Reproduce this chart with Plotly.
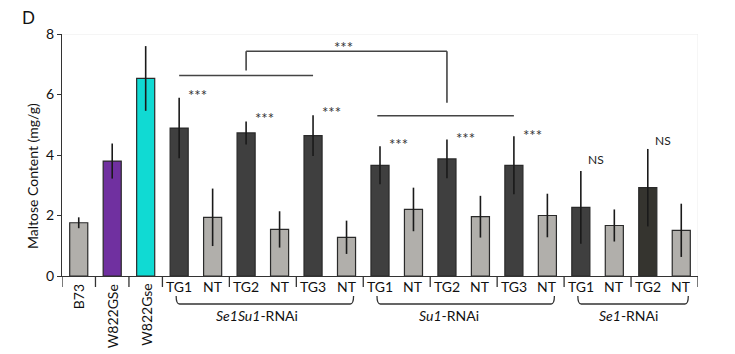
import plotly.graph_objects as go

# ---------------- data ----------------
labels = ["B73", "W822GSe", "W822Gse",
          "TG1", "NT", "TG2", "NT", "TG3", "NT",
          "TG1", "NT", "TG2", "NT", "TG3", "NT",
          "TG1", "NT", "TG2", "NT"]
values = [1.76, 3.80, 6.53,
          4.89, 1.94, 4.73, 1.54, 4.64, 1.28,
          3.66, 2.20, 3.87, 1.96, 3.66, 2.00,
          2.27, 1.67, 2.92, 1.51]
errors = [0.18, 0.58, 1.07,
          1.00, 0.95, 0.38, 0.60, 0.67, 0.55,
          0.63, 0.72, 0.64, 0.69, 0.96, 0.72,
          1.20, 0.53, 1.28, 0.88]
kinds = ["wt", "GSe", "Gse",
         "TG", "NT", "TG", "NT", "TG", "NT",
         "TG", "NT", "TG", "NT", "TG", "NT",
         "TG", "NT", "TG2b", "NT"]
rotated_labels = {0, 1, 2}
groups = ["Se1Su1", "Su1", "Se1"]
group_ranges = [(3, 8), (9, 14), (15, 18)]
sig_bars = [3, 5, 7, 9, 11, 13]          # bars marked ***
ns_bars = [15, 17]                        # bars marked NS
sig_y = [6.13, 5.34, 5.56, 4.51, 4.71, 4.80]
ns_y = [3.85, 4.49]
separators = [-0.5, 0.5, 1.5, 2.5, 4.5, 6.5, 8.5, 10.5, 12.5, 14.5, 16.5, 18.5]

color_map = {"wt": "#b1afab", "GSe": "#7030a0", "Gse": "#10dad3",
             "TG": "#3f3f3f", "NT": "#b1afab", "TG2b": "#35342f"}

FONT = "Lato, 'Open Sans', sans-serif"
STARS = "***"
xs = list(range(len(values)))

fig = go.Figure()
fig.add_trace(go.Bar(
    x=xs, y=values,
    marker=dict(color=[color_map[k] for k in kinds],
                line=dict(color="#2a2a2a", width=1.2)),
    error_y=dict(type="data", array=errors, visible=True,
                 color="#1a1a1a", thickness=1.6, width=0),
    width=0.54, showlegend=False, hoverinfo="x+y",
))

annotations = []
shapes = []

# x category labels
for i, lab in enumerate(labels):
    if i in rotated_labels:
        annotations.append(dict(x=i, y=0, xref="x", yref="paper", text=lab,
                                textangle=-90, showarrow=False, yanchor="top",
                                xanchor="center", yshift=-6,
                                font=dict(size=14, color="#111", family=FONT)))
    else:
        annotations.append(dict(x=i, y=0, xref="x", yref="paper", text=lab,
                                showarrow=False, yanchor="middle", xanchor="center",
                                yshift=-10,
                                font=dict(size=14, color="#111", family=FONT)))

# group braces + labels
label_x = [5.33, 11.06, 16.42]
for (a, b), g, lx in zip(group_ranges, groups, label_x):
    x0, x1 = a - 0.09, b + 0.21
    yt, yb = -20 / 242, -28 / 242
    d = 0.1
    shapes.append(dict(type="path", xref="x", yref="paper",
                       path=f"M {x0},{yt} Q {x0},{yb} {x0 + d},{yb} L {x1 - d},{yb} Q {x1},{yb} {x1},{yt}",
                       line=dict(color="#333", width=1.3)))
    annotations.append(dict(x=lx, y=0, xref="x", yref="paper",
                            text=f"<i>{g}</i>-RNAi", showarrow=False,
                            yanchor="middle", xanchor="center", yshift=-39,
                            font=dict(size=14, color="#111", family=FONT)))

# separators on x axis
for s in separators:
    shapes.append(dict(type="line", xref="x", yref="paper", x0=s, x1=s,
                       y0=0, y1=-11 / 242, line=dict(color="#333", width=1.3)))

# significance stars
for b, yv in zip(sig_bars, sig_y):
    annotations.append(dict(x=b + 0.55, y=yv, xref="x", yref="y", text=STARS,
                            showarrow=False, yshift=-4,
                            font=dict(size=15, color="#333", family=FONT)))
for b, yv in zip(ns_bars, ns_y):
    annotations.append(dict(x=b + 0.45, y=yv, xref="x", yref="y", text="NS",
                            showarrow=False,
                            font=dict(size=12, color="#222", family=FONT)))

# comparison brackets
bl = dict(color="#444", width=1.6)
shapes += [
    dict(type="line", xref="x", yref="y", x0=3, x1=7, y0=6.63, y1=6.63, line=bl),
    dict(type="line", xref="x", yref="y", x0=5, x1=5, y0=6.79, y1=7.43, line=bl),
    dict(type="line", xref="x", yref="y", x0=5, x1=11, y0=7.43, y1=7.43, line=bl),
    dict(type="line", xref="x", yref="y", x0=11, x1=11, y0=7.43, y1=5.73, line=bl),
    dict(type="line", xref="x", yref="y", x0=8.92, x1=13, y0=5.30, y1=5.30, line=bl),
]
annotations.append(dict(x=7.9, y=7.70, xref="x", yref="y", text=STARS,
                        showarrow=False, yshift=-4,
                        font=dict(size=15, color="#333", family=FONT)))

# faint frame top/right
shapes += [
    dict(type="line", xref="x", yref="y", x0=-0.5, x1=18.5, y0=8, y1=8,
         line=dict(color="#ececec", width=1)),
    dict(type="line", xref="x", yref="y", x0=18.5, x1=18.5, y0=0, y1=8,
         line=dict(color="#ececec", width=1)),
]

# panel letter and y title
annotations.append(dict(x=0, y=1, xref="paper", yref="paper", text="D",
                        showarrow=False, xanchor="left", yanchor="middle",
                        xshift=-42, yshift=17,
                        font=dict(size=17, color="#111", family=FONT)))
annotations.append(dict(x=0, y=0.5, xref="paper", yref="paper",
                        text="Maltose Content (mg/g)", textangle=-90,
                        showarrow=False, xanchor="center", yanchor="middle",
                        xshift=-30, yshift=-21,
                        font=dict(size=14, color="#111", family=FONT)))

fig.update_layout(
    width=735, height=354,
    margin=dict(l=62, r=37, t=34, b=78),
    paper_bgcolor="white", plot_bgcolor="white",
    xaxis=dict(range=[-0.5, 18.5], showticklabels=False, ticks="",
               showgrid=False, zeroline=False, showline=True,
               linecolor="#333", linewidth=1.3),
    yaxis=dict(range=[0, 8], tickvals=[0, 2, 4, 6, 8], ticks="outside",
               ticklen=4, tickcolor="#333", showgrid=False, zeroline=False,
               showline=True, linecolor="#333", linewidth=1.3,
               tickfont=dict(size=14, color="#111", family=FONT)),
    annotations=annotations, shapes=shapes,
    bargap=0.46,
)

fig.write_html("out.html")
